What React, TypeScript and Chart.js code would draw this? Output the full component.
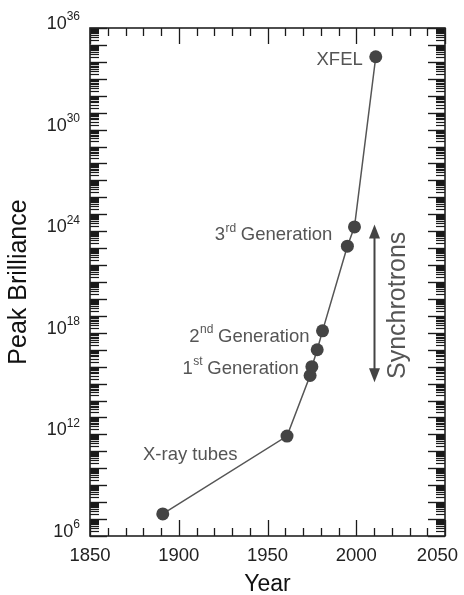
import { useEffect, useRef } from "react";
import { Chart, registerables } from "chart.js";

Chart.register(...registerables);

// ---- data ----
const years = [1891, 1961, 1974, 1975, 1978, 1981, 1995, 1999, 2011];
const brilliance = [2e7, 8e11, 3e15, 1e16, 1e17, 1.3e18, 1.3e23, 1.8e24, 2e34];
const xTickYears = [1850, 1900, 1950, 2000, 2050];
const yTickExponents = [6, 12, 18, 24, 30, 36];
const labelMain = ["XFEL", "3", "2", "1", "X-ray tubes"];
const labelSup = ["", "rd", "nd", "st", ""];
const labelRest = ["", " Generation", " Generation", " Generation", ""];
const labelPoint = [8, 6, 5, 3, 1];
const synchrotronText = "Synchrotrons";
const synchrotronYear = 2010;
const synchrotronRange = [1.2e15, 2.5e24];
const xTitle = "Year";
const yTitle = "Peak Brilliance";

// ---- layout / style ----
const FONT = "'Liberation Sans', Arial, Helvetica, sans-serif";
const labelLayout: [number, number, "left" | "right"][] = [
  [-13, 3, "right"],
  [-15, -11, "right"],
  [-13, 6, "right"],
  [-13, 2, "right"],
  [-144, 19, "left"],
];

const decor = {
  id: "decor",
  afterDraw(chart: any) {
    const ctx: CanvasRenderingContext2D = chart.ctx;
    const { left, right, top, bottom } = chart.chartArea;
    const xs = chart.scales.x;
    const ys = chart.scales.y;
    const line = (x1: number, y1: number, x2: number, y2: number) => {
      ctx.beginPath();
      ctx.moveTo(x1, y1);
      ctx.lineTo(x2, y2);
      ctx.stroke();
    };
    ctx.save();

    // x ticks (inward, top & bottom)
    ctx.strokeStyle = "#1a1a1a";
    ctx.lineWidth = 1.3;
    const xMin = xTickYears[0];
    const xMax = xTickYears[xTickYears.length - 1];
    for (let yr = xMin; yr <= xMax; yr += 10) {
      const px = Math.round(xs.getPixelForValue(yr)) + 0.5;
      const len = yr % 50 === 0 ? 16 : 8;
      line(px, bottom, px, bottom - len);
      line(px, top, px, top + len);
    }
    // y ticks (log, inward, left & right)
    const eMin = yTickExponents[0];
    const eMax = yTickExponents[yTickExponents.length - 1];
    for (let e = eMin; e <= eMax; e++) {
      for (let m = 1; m < 10; m++) {
        if (e === eMax && m > 1) break;
        const py = Math.round(ys.getPixelForValue(m * Math.pow(10, e))) + 0.5;
        const len = m === 1 ? 17 : 9;
        ctx.lineWidth = m === 1 ? 1.4 : 1.2;
        line(left, py, left + len, py);
        line(right, py, right - len, py);
      }
    }

    // frame
    ctx.strokeStyle = "#222";
    ctx.lineWidth = 1.6;
    ctx.strokeRect(left, top, right - left, bottom - top);

    // x tick labels
    ctx.fillStyle = "#222";
    ctx.font = `18.5px ${FONT}`;
    ctx.textAlign = "center";
    ctx.textBaseline = "middle";
    const maxRight = chart.width - 6;
    for (const yr of xTickYears) {
      const s = String(yr);
      const w = ctx.measureText(s).width;
      let cx = xs.getPixelForValue(yr);
      if (cx + w / 2 > maxRight) cx = maxRight - w / 2;
      ctx.fillText(s, cx, bottom + 20);
    }
    // y tick labels 10^n
    for (const e of yTickExponents) {
      const py = ys.getPixelForValue(Math.pow(10, e)) - 4;
      const supStr = String(e);
      ctx.font = `12px ${FONT}`;
      const sw = ctx.measureText(supStr).width;
      const xr = left - 10;
      ctx.textAlign = "left";
      ctx.fillText(supStr, xr - sw, py - 7);
      ctx.font = `18px ${FONT}`;
      ctx.textAlign = "right";
      ctx.fillText("10", xr - sw, py);
    }

    // axis titles
    ctx.fillStyle = "#111";
    ctx.font = `23px ${FONT}`;
    ctx.textAlign = "center";
    ctx.fillText(xTitle, (left + right) / 2, bottom + 49);
    ctx.save();
    ctx.translate(19, (top + bottom) / 2);
    ctx.rotate(-Math.PI / 2);
    ctx.font = `25px ${FONT}`;
    ctx.fillText(yTitle, 0, 0);
    ctx.restore();

    // annotation labels
    ctx.fillStyle = "#555";
    ctx.textAlign = "left";
    for (let i = 0; i < labelMain.length; i++) {
      const idx = labelPoint[i];
      const [dx, dy, align] = labelLayout[i];
      const px = xs.getPixelForValue(years[idx]) + dx;
      const py = ys.getPixelForValue(brilliance[idx]) + dy;
      ctx.font = `18.5px ${FONT}`;
      const w1 = ctx.measureText(labelMain[i]).width;
      const w3 = ctx.measureText(labelRest[i]).width;
      ctx.font = `12px ${FONT}`;
      const w2 = ctx.measureText(labelSup[i]).width;
      const total = w1 + w2 + w3;
      const x0 = align === "right" ? px - total : px;
      ctx.font = `18.5px ${FONT}`;
      ctx.fillText(labelMain[i], x0, py);
      ctx.font = `12px ${FONT}`;
      ctx.fillText(labelSup[i], x0 + w1 + 0.5, py - 7);
      ctx.font = `18.5px ${FONT}`;
      ctx.fillText(labelRest[i], x0 + w1 + w2, py);
    }

    // synchrotron arrow
    const ax = Math.round(xs.getPixelForValue(synchrotronYear)) + 0.5;
    const yTop = ys.getPixelForValue(synchrotronRange[1]);
    const yBot = ys.getPixelForValue(synchrotronRange[0]);
    ctx.strokeStyle = "#444";
    ctx.fillStyle = "#444";
    ctx.lineWidth = 2;
    line(ax, yTop + 10, ax, yBot - 10);
    ctx.beginPath();
    ctx.moveTo(ax, yTop);
    ctx.lineTo(ax - 5.5, yTop + 14);
    ctx.lineTo(ax + 5.5, yTop + 14);
    ctx.closePath();
    ctx.fill();
    ctx.beginPath();
    ctx.moveTo(ax, yBot);
    ctx.lineTo(ax - 5.5, yBot - 14);
    ctx.lineTo(ax + 5.5, yBot - 14);
    ctx.closePath();
    ctx.fill();

    ctx.save();
    ctx.translate(ax + 24, (yTop + yBot) / 2 + 2);
    ctx.rotate(-Math.PI / 2);
    ctx.fillStyle = "#555";
    ctx.font = `25px ${FONT}`;
    ctx.textAlign = "center";
    ctx.textBaseline = "middle";
    ctx.fillText(synchrotronText, 0, 0);
    ctx.restore();

    ctx.restore();
  },
};

export default function App() {
  const ref = useRef<HTMLCanvasElement | null>(null);
  useEffect(() => {
    if (!ref.current) return;
    const chart = new Chart(ref.current, {
      type: "scatter",
      data: {
        datasets: [
          {
            data: years.map((x, i) => ({ x, y: brilliance[i] })),
            showLine: true,
            borderColor: "#555",
            borderWidth: 1.5,
            pointRadius: 6.5,
            pointBackgroundColor: "#444",
            pointBorderColor: "#444",
            pointBorderWidth: 0,
          },
        ],
      },
      options: {
        animation: false,
        responsive: false,
        devicePixelRatio: 1,
        layout: { padding: { left: 90, right: 19, top: 28, bottom: 59 } },
        scales: {
          x: { type: "linear", min: 1850, max: 2050, display: false },
          y: { type: "logarithmic", min: 1e6, max: 1e36, display: false },
        },
        plugins: {
          legend: { display: false },
          tooltip: { enabled: false },
        },
      },
      plugins: [decor],
    });
    return () => chart.destroy();
  }, []);
  return (
    <canvas
      ref={ref}
      width={464}
      height={595}
      style={{ position: "absolute", left: 0, top: 0, display: "block", background: "#fff" }}
    />
  );
}
